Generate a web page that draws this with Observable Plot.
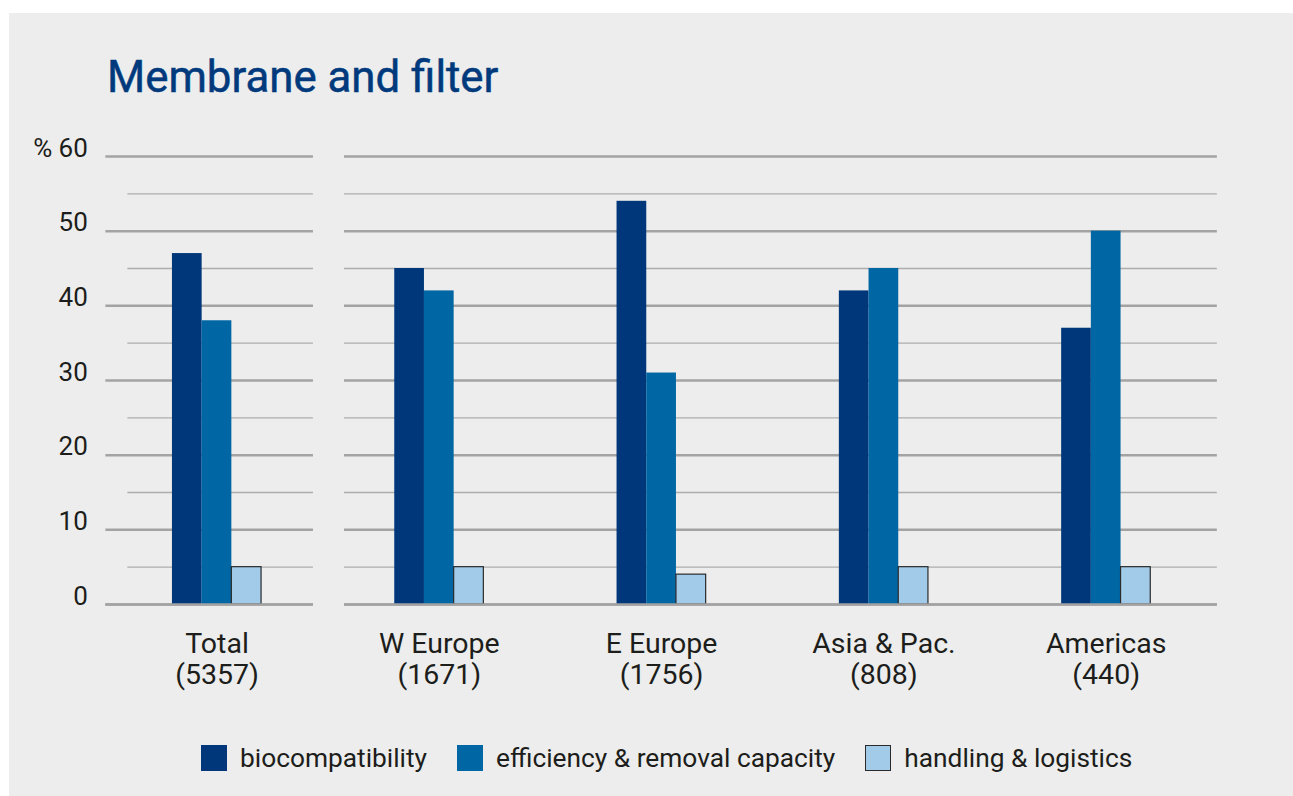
<!DOCTYPE html>
<html>
<head>
<meta charset="utf-8">
<script src="https://cdn.jsdelivr.net/npm/d3@7"></script>
<script src="https://cdn.jsdelivr.net/npm/@observablehq/plot@0.6"></script>
<style>
  html, body { margin: 0; padding: 0; background: #ffffff; }
  body { width: 1293px; height: 796px; overflow: hidden; position: relative; font-family: Roboto, "Open Sans", sans-serif; }
  #panel { position: absolute; left: 9px; top: 13px; width: 1284px; height: 783px; background: #ecedec; }
  #title { position: absolute; left: 98px; top: 42px; font-size: 43.8px; line-height: 44px; font-weight: 400; color: #003a7d; white-space: nowrap; -webkit-text-stroke: 0.5px #003a7d; }
  #chart { position: absolute; left: 0; top: 120px; }
  #legend { position: absolute; left: 192px; top: 732px; height: 26px; display: flex; align-items: center; color: #1d1d1b; font-size: 26.3px; white-space: nowrap; }
  .item { display: flex; align-items: center; margin-right: 30px; }
  .sw { width: 26px; height: 26px; margin-right: 13px; box-sizing: border-box; }
</style>
</head>
<body>
<div id="panel">
  <div id="title">Membrane and filter</div>
  <div id="chart"></div>
  <div id="legend"></div>
</div>
<script>
// ---- data ----
const regions = ["Total", "W Europe", "E Europe", "Asia & Pac.", "Americas"];
const counts = [5357, 1671, 1756, 808, 440];
const seriesNames = ["biocompatibility", "efficiency & removal capacity", "handling & logistics"];
const biocompatibility = [47, 45, 54, 42, 37];
const efficiency = [38, 42, 31, 45, 50];
const handling = [5, 5, 4, 5, 5];
const majorTicks = [0, 10, 20, 30, 40, 50, 60];
const minorTicks = [5, 15, 25, 35, 45, 55];
const tickLabels = ["0", "10", "20", "30", "40", "50", "% 60"];

// ---- style ----
const colors = ["#00377a", "#0066a4", "#a2cbea"];
const W = 1284, H = 580;
const mL = 96.35, mR = 76.15, mT = 23, mB = 109;
const bw = (W - mL - mR) / regions.length;
const barW = 29.7;
const inset = (bw - barW) / 2;

const rows = regions.map((r, i) => ({
  region: r, count: counts[i],
  v0: biocompatibility[i], v1: efficiency[i], v2: handling[i]
}));

const majorStyle = {stroke: "#a3a3a3", strokeWidth: 2.5};
const minorStyle = {stroke: "#adadad", strokeWidth: 1.4};

const chart = Plot.plot({
  width: W, height: H,
  marginLeft: mL, marginRight: mR, marginTop: mT, marginBottom: mB,
  style: {background: "transparent", fontFamily: "Roboto, 'Open Sans', sans-serif", color: "#1d1d1b", overflow: "visible"},
  x: {domain: regions, padding: 0, round: false, axis: null},
  y: {domain: [0, 60], axis: null},
  marks: [
    // gridlines: Total segment
    Plot.ruleY(majorTicks, {y: d => d, x1: () => "Total", x2: () => "Total", insetRight: 14.7, ...majorStyle}),
    Plot.ruleY(minorTicks, {y: d => d, x1: () => "Total", x2: () => "Total", insetLeft: 22, insetRight: 14.7, ...minorStyle}),
    // gridlines: regions segment
    Plot.ruleY(majorTicks, {y: d => d, x1: () => "W Europe", x2: () => "Americas", insetLeft: 16.35, ...majorStyle}),
    Plot.ruleY(minorTicks, {y: d => d, x1: () => "W Europe", x2: () => "Americas", insetLeft: 16.35, ...minorStyle}),
    // bars
    Plot.barY(rows, {x: "region", y: "v0", fill: colors[0], insetLeft: inset, insetRight: inset, dx: -barW}),
    Plot.barY(rows, {x: "region", y: "v1", fill: colors[1], insetLeft: inset, insetRight: inset}),
    Plot.barY(rows, {x: "region", y: "v2", fill: colors[2], stroke: "#2a2a2a", strokeWidth: 1.2, insetLeft: inset, insetRight: inset, dx: barW}),
    // baseline on top
    Plot.ruleY([0], {y: d => d, x1: () => "Total", x2: () => "Total", insetRight: 14.7, ...majorStyle}),
    Plot.ruleY([0], {y: d => d, x1: () => "W Europe", x2: () => "Americas", insetLeft: 16.35, ...majorStyle}),
    // y tick labels
    Plot.text(majorTicks, {y: d => d, text: (d, i) => tickLabels[i], frameAnchor: "left", textAnchor: "end", lineAnchor: "bottom", dx: -18, fontSize: 26, fill: "#1d1d1b"}),
    // x labels
    Plot.text(rows, {x: "region", text: d => `${d.region}\n(${d.count})`, frameAnchor: "bottom", lineAnchor: "top", dy: 26, fontSize: 28.5, lineHeight: 1.09, fill: "#1d1d1b"})
  ]
});
document.getElementById("chart").appendChild(chart);

// legend
const legend = document.getElementById("legend");
seriesNames.forEach((name, i) => {
  const item = document.createElement("div");
  item.className = "item";
  const sw = document.createElement("div");
  sw.className = "sw";
  sw.style.background = colors[i];
  if (i === 2) sw.style.border = "1.2px solid #2a2a2a";
  const lab = document.createElement("span");
  lab.textContent = name;
  item.appendChild(sw);
  item.appendChild(lab);
  legend.appendChild(item);
});
</script>
</body>
</html>
